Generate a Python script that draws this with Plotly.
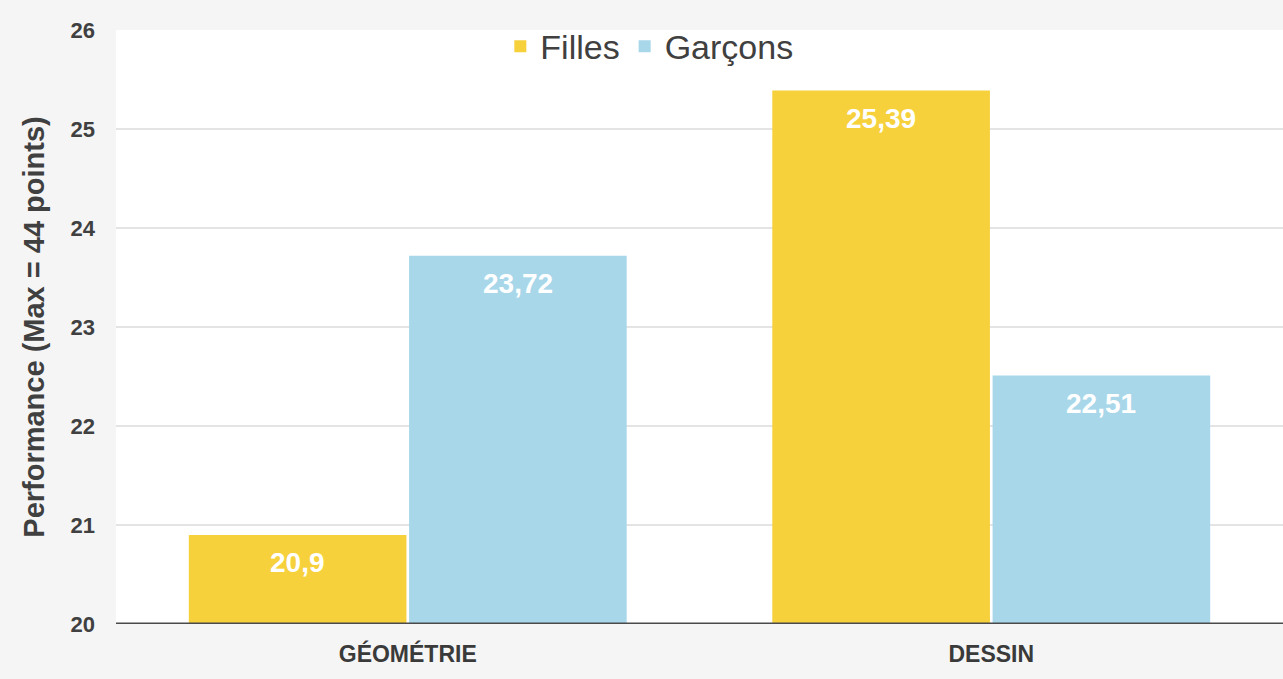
import plotly.graph_objects as go

categories = ["GÉOMÉTRIE", "DESSIN"]
filles = [20.9, 25.39]
garcons = [23.72, 22.51]
y_ticks = [20, 21, 22, 23, 24, 25, 26]

FONT = "Liberation Sans, Arial, sans-serif"
W, H = 1283, 679
ML, MR, MT, MB = 116, 0, 30, 55
BARGAP = 0.245

def fr(v):
    return str(v).replace(".", ",")

fig = go.Figure()
fig.add_trace(go.Bar(name="Filles", x=categories, y=filles,
                     marker=dict(color="#F6D13C", line=dict(width=0))))
fig.add_trace(go.Bar(name="Garçons", x=categories, y=garcons,
                     marker=dict(color="#A8D7EA", line=dict(width=0))))

# value labels inside the top of each bar
cat_px = (W - ML - MR) / len(categories)
offset_px = (1 - BARGAP) / 4 * cat_px
for sign, vals in ((-1, filles), (1, garcons)):
    for c, v in zip(categories, vals):
        fig.add_annotation(x=c, y=v, xref="x", yref="y", text=fr(v), showarrow=False,
                           xshift=sign * offset_px, yshift=-28, yanchor="middle",
                           font=dict(family=FONT, size=28, color="white", weight="bold"))

fig.update_layout(
    width=W, height=H,
    margin=dict(l=ML, r=MR, t=MT, b=MB),
    paper_bgcolor="#F5F5F5",
    plot_bgcolor="#FFFFFF",
    barmode="group", bargap=BARGAP, bargroupgap=0.012,
    font=dict(family=FONT, color="#404040"),
    showlegend=True,
    legend=dict(orientation="h", x=0.457, xanchor="center", y=0.972, yanchor="middle",
                font=dict(family=FONT, size=34, color="#404040"),
                bgcolor="rgba(255,255,255,0)", traceorder="normal"),
    xaxis=dict(showgrid=False, ticks="", showline=False, ticklabelstandoff=14,
               tickfont=dict(family=FONT, size=23, color="#3A3A3A", weight="bold")),
    yaxis=dict(range=[20, 26], tickvals=y_ticks, ticktext=[str(t) for t in y_ticks],
               showgrid=True, gridcolor="#E4E4E4", gridwidth=1.5,
               zeroline=False, showline=False, ticks="", ticklabelstandoff=20,
               tickfont=dict(family=FONT, size=22, color="#404040", weight="bold"),
               title=dict(text="Performance (Max = 44 points)", standoff=17,
                          font=dict(family=FONT, size=29, color="#404040", weight="bold"))),
    shapes=[dict(type="line", xref="paper", yref="y", x0=0, x1=1, y0=20, y1=20,
                 line=dict(color="#4A4A4A", width=3), layer="above")],
)

fig.write_html("out.html")
